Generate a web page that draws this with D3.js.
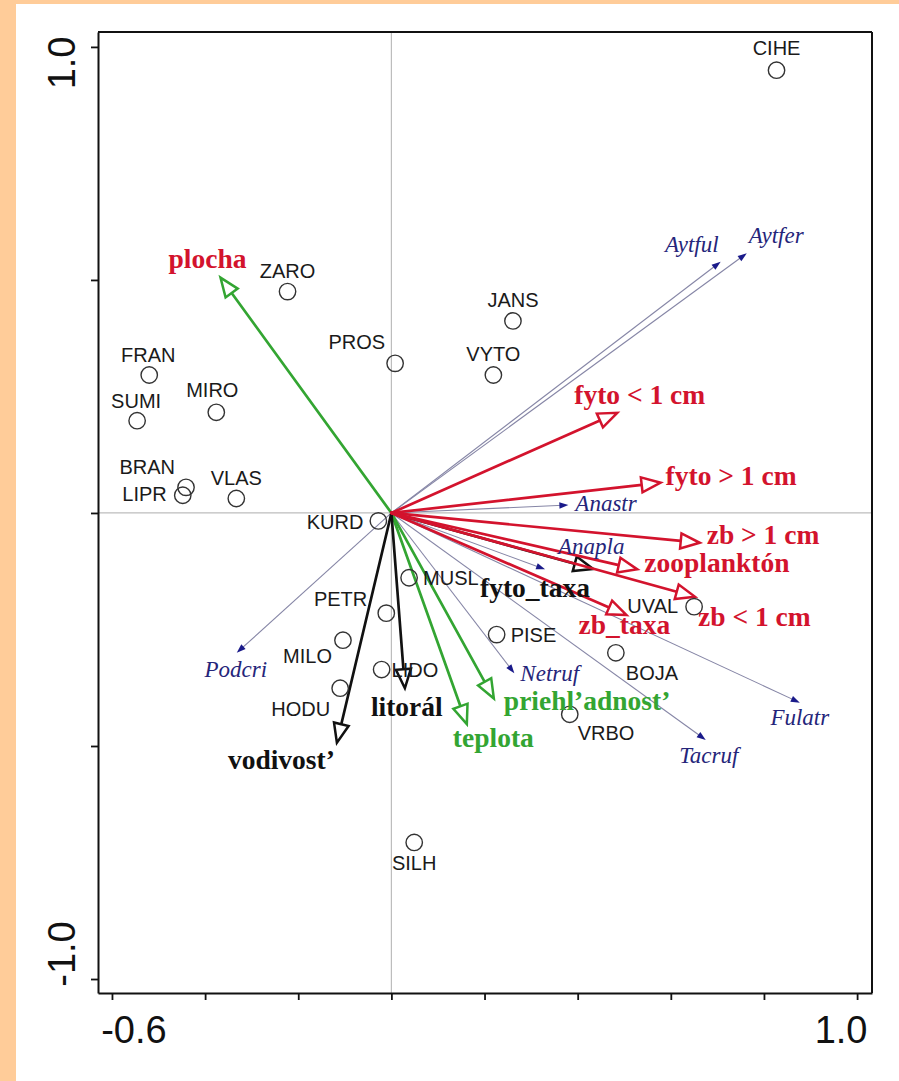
<!DOCTYPE html>
<html>
<head>
<meta charset="utf-8">
<script src="https://cdn.jsdelivr.net/npm/d3@7"></script>
<style>
  html, body { margin: 0; padding: 0; background: #ffffff; }
  svg { display: block; }
</style>
</head>
<body>
<script>
// ---------------- DATA ----------------
const xTicks = [-0.6, -0.4, -0.2, 0.0, 0.2, 0.4, 0.6, 0.8, 1.0];
const yTicks = [-1.0, -0.5, 0.0, 0.5, 1.0];
const xTickLabels = ["-0.6", "1.0"];      // labelled x ticks
const yTickLabels = ["1.0", "-1.0"];      // labelled y ticks
const xTickLabelValues = [-0.6, 1.0];
const yTickLabelValues = [1.0, -1.0];

// sites (samples)
const siteNames = ["CIHE","ZARO","JANS","PROS","VYTO","FRAN","SUMI","MIRO","BRAN","LIPR","VLAS",
                   "KURD","MUSL","PETR","MILO","LIDO","HODU","SILH","PISE","UVAL","BOJA","VRBO"];
const siteX = [0.827,-0.223,0.261,0.008,0.219,-0.520,-0.546,-0.376,-0.441,-0.448,-0.333,
               -0.028,0.038,-0.011,-0.104,-0.021,-0.110,0.049,0.226,0.650,0.482,0.383];
const siteY = [0.950,0.475,0.412,0.321,0.296,0.296,0.198,0.216,0.055,0.038,0.031,
               -0.017,-0.139,-0.215,-0.273,-0.336,-0.376,-0.707,-0.261,-0.201,-0.300,-0.432];

// environmental variables (arrows)
const envNames = ["plocha","teplota","priehl’adnost’","vodivost’","litorál","fyto_taxa",
                  "fyto < 1 cm","fyto > 1 cm","zb > 1 cm","zooplanktón","zb < 1 cm","zb_taxa"];
const envX = [-0.367,0.162,0.220,-0.117,0.029,0.433,0.485,0.578,0.662,0.528,0.652,0.505];
const envY = [0.505,-0.453,-0.398,-0.493,-0.376,-0.120,0.215,0.065,-0.064,-0.121,-0.180,-0.219];
const envGroup = ["green","green","green","black","black","black","red","red","red","red","red","red"];
const envLabelGroup = ["red","green","green","black","black","black","red","red","red","red","red","red"];

// species (arrows)
const spNames = ["Aytful","Aytfer","Anastr","Anapla","Netruf","Tacruf","Fulatr","Podcri"];
const spX = [0.707,0.763,0.380,0.330,0.264,0.675,0.877,-0.332];
const spY = [0.539,0.557,0.017,-0.121,-0.344,-0.487,-0.407,-0.300];

// ---------------- LAYOUT (label placement, px) ----------------
const siteLabelPos = {
  CIHE:[0,-15,"middle"], ZARO:[0,-14,"middle"], JANS:[0,-14,"middle"], PROS:[-10,-14,"end"],
  VYTO:[0,-14,"middle"], FRAN:[-1,-13,"middle"], SUMI:[-1,-13,"middle"], MIRO:[-4,-15,"middle"],
  BRAN:[-11,-13,"end"], LIPR:[-16,6,"end"], VLAS:[0,-14,"middle"], KURD:[-15,8,"end"],
  MUSL:[14,7,"start"], PETR:[-19,-7,"end"], MILO:[-11,23,"end"], LIDO:[10,7,"start"],
  HODU:[-10,28,"end"], SILH:[0,28,"middle"], PISE:[14,7,"start"], UVAL:[-16,6,"end"],
  BOJA:[10,27,"start"], VRBO:[8,26,"start"]
};
const envLabelPos = [
  [-13,-10,"middle"], [-14,23,"start"], [10,12,"start"], [-2,26,"end"], [-34,28,"start"],
  [-3,28,"end"], [-43,-9,"start"], [5,2,"start"], [7,1,"start"], [7,2.5,"start"],
  [3,29,"start"], [-48,19,"start"]
];
const spLabelPos = [
  [-2,-10,"end"], [2,-10,"start"], [7,6,"start"], [13,-15,"start"], [6,8,"start"],
  [3,23,"middle"], [0,22,"middle"], [-1,24,"middle"]
];

const colors = { red: "#d3132d", green: "#33a532", black: "#111111", navy: "#25257a", spLine: "#8686a6" };

// ---------------- DRAW ----------------
const W = 899, H = 1081;
const svg = d3.select("body").append("svg").attr("width", W).attr("height", H);

// page background with peach border (left, top)
svg.append("rect").attr("x",0).attr("y",0).attr("width",W).attr("height",H).attr("fill","#ffcc99");
svg.append("rect").attr("x",16).attr("y",4).attr("width",W-16).attr("height",H-4).attr("fill","#ffffff");

const x = d3.scaleLinear().domain([-0.63, 1.032]).range([98, 872]);
const y = d3.scaleLinear().domain([-1.03, 1.032]).range([993, 32]);

// zero lines
svg.append("line").attr("x1", x(0)).attr("x2", x(0)).attr("y1", y.range()[1]).attr("y2", y.range()[0])
  .attr("stroke", "#bdbdbd").attr("stroke-width", 1.2);
svg.append("line").attr("x1", x.range()[0]).attr("x2", x.range()[1]).attr("y1", y(0)).attr("y2", y(0))
  .attr("stroke", "#bdbdbd").attr("stroke-width", 1.2);

// frame top & right
svg.append("line").attr("x1", x.range()[0]).attr("x2", x.range()[1]).attr("y1", y.range()[1]).attr("y2", y.range()[1])
  .attr("stroke", "#111").attr("stroke-width", 2);
svg.append("line").attr("x1", x.range()[1]).attr("x2", x.range()[1]).attr("y1", y.range()[1]).attr("y2", y.range()[0])
  .attr("stroke", "#111").attr("stroke-width", 2);

// axes
const gx = svg.append("g").attr("transform", `translate(0,${y.range()[0]})`)
  .call(d3.axisBottom(x).tickValues(xTicks).tickFormat("").tickSize(7).tickSizeOuter(0));
const gy = svg.append("g").attr("transform", `translate(${x.range()[0]},0)`)
  .call(d3.axisLeft(y).tickValues(yTicks).tickFormat("").tickSize(7).tickSizeOuter(0));
[gx, gy].forEach(g => {
  g.select(".domain").attr("stroke", "#111").attr("stroke-width", 2);
  g.selectAll(".tick line").attr("stroke", "#111").attr("stroke-width", 1.8);
});

// tick labels
const tickFont = "'Liberation Sans', Arial, sans-serif";
const xLabOffsets = [22, -16];
xTickLabels.forEach((t, i) => {
  svg.append("text").attr("x", x(xTickLabelValues[i]) + xLabOffsets[i]).attr("y", 1043)
    .attr("text-anchor", "middle").attr("font-family", tickFont).attr("font-size", 38)
    .attr("fill", "#111").text(t);
});
const yLabOffsets = [16, -25];
yTickLabels.forEach((t, i) => {
  svg.append("text")
    .attr("transform", `translate(75,${y(yTickLabelValues[i]) + yLabOffsets[i]}) rotate(-90)`)
    .attr("text-anchor", "middle").attr("font-family", tickFont).attr("font-size", 38)
    .attr("fill", "#111").text(t);
});

const ox = x(0), oy = y(0);

// species arrows
const spG = svg.append("g");
spNames.forEach((n, i) => {
  const tx = x(spX[i]), ty = y(spY[i]);
  const dx = tx - ox, dy = ty - oy, L = Math.hypot(dx, dy);
  const ux = dx / L, uy = dy / L;
  const hl = 9, hw = 3.2;
  spG.append("line").attr("x1", ox).attr("y1", oy).attr("x2", tx - ux*hl*0.6).attr("y2", ty - uy*hl*0.6)
    .attr("stroke", colors.spLine).attr("stroke-width", 1.1);
  const bx = tx - ux*hl, by = ty - uy*hl;
  spG.append("path")
    .attr("d", `M${tx},${ty}L${bx - uy*hw},${by + ux*hw}L${bx + uy*hw},${by - ux*hw}Z`)
    .attr("fill", "#1a1a8a").attr("stroke", "none");
});

// environmental arrows
const envG = svg.append("g");
envNames.forEach((n, i) => {
  const tx = x(envX[i]), ty = y(envY[i]);
  const dx = tx - ox, dy = ty - oy, L = Math.hypot(dx, dy);
  const ux = dx / L, uy = dy / L;
  const hl = 19, hw = 7.5;
  const c = colors[envGroup[i]];
  const bx = tx - ux*hl, by = ty - uy*hl;
  envG.append("line").attr("x1", ox).attr("y1", oy).attr("x2", bx).attr("y2", by)
    .attr("stroke", c).attr("stroke-width", 2.7).attr("stroke-linecap", "round");
  envG.append("path")
    .attr("d", `M${tx},${ty}L${bx - uy*hw},${by + ux*hw}L${bx + uy*hw},${by - ux*hw}Z`)
    .attr("fill", "#ffffff").attr("stroke", c).attr("stroke-width", 2.5).attr("stroke-linejoin", "miter");
});

// sites
const siteG = svg.append("g");
siteNames.forEach((n, i) => {
  siteG.append("circle").attr("cx", x(siteX[i])).attr("cy", y(siteY[i])).attr("r", 8.2)
    .attr("fill", "none").attr("stroke", "#333").attr("stroke-width", 1.4);
});
siteNames.forEach((n, i) => {
  const p = siteLabelPos[n];
  siteG.append("text").attr("x", x(siteX[i]) + p[0]).attr("y", y(siteY[i]) + p[1])
    .attr("text-anchor", p[2]).attr("font-family", tickFont).attr("font-size", 20)
    .attr("fill", "#1a1a1a").text(n);
});

// species labels
spNames.forEach((n, i) => {
  const p = spLabelPos[i];
  svg.append("text").attr("x", x(spX[i]) + p[0]).attr("y", y(spY[i]) + p[1])
    .attr("text-anchor", p[2]).attr("font-family", "'Liberation Serif', 'Times New Roman', serif")
    .attr("font-style", "italic").attr("font-size", 23).attr("fill", colors.navy).text(n);
});

// env labels
envNames.forEach((n, i) => {
  const p = envLabelPos[i];
  svg.append("text").attr("x", x(envX[i]) + p[0]).attr("y", y(envY[i]) + p[1])
    .attr("text-anchor", p[2]).attr("font-family", "'Liberation Serif', 'Times New Roman', serif")
    .attr("font-weight", "bold").attr("font-size", 27.5).attr("fill", colors[envLabelGroup[i]]).text(n);
});
</script>
</body>
</html>
